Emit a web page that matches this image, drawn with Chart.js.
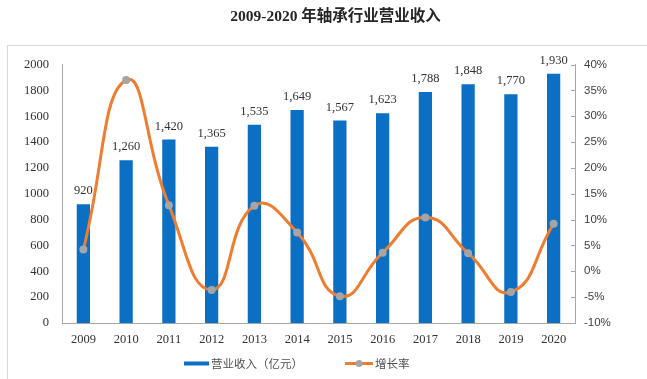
<!DOCTYPE html>
<html><head><meta charset="utf-8">
<script src="https://cdn.jsdelivr.net/npm/chart.js@4.4.1/dist/chart.umd.min.js"></script>
<style>html,body{margin:0;padding:0;background:#fff}#wrap{width:647px;height:379px;position:relative}</style>
</head><body><div id="wrap"><canvas id="c" width="647" height="379"></canvas></div>
<script>
const years = ['2009','2010','2011','2012','2013','2014','2015','2016','2017','2018','2019','2020'];
const revenue = [920, 1260, 1420, 1365, 1535, 1649, 1567, 1623, 1788, 1848, 1770, 1930];
const growth = [4.2, 37.0, 12.8, -3.6, 12.7, 7.5, -4.8, 3.6, 10.4, 3.5, -4.0, 9.2];
const revenueAxis = {min: 0, max: 2000, step: 200};
const growthAxis = {min: -10, max: 40, step: 5};
const titleText = '2009-2020 年轴承行业营业收入';
const seriesNames = ['营业收入（亿元）', '增长率'];

const BLUE = '#0B6FC3', ORANGE = '#ED7D31', GRAY = '#A5A5A5', AXIS = '#A6A6A6';
const SERIF = "'Liberation Serif','Times New Roman','Noto Sans CJK SC',serif";
const CJK = "'Noto Sans CJK SC','Liberation Sans',sans-serif";

const framePlugin = {
  id: 'frame',
  beforeDraw(chart) {
    const ctx = chart.ctx;
    ctx.save();
    ctx.fillStyle = '#fff';
    ctx.fillRect(0, 0, chart.width, chart.height);
    ctx.strokeStyle = '#D9D9D9';
    ctx.lineWidth = 1;
    ctx.strokeRect(7.5, 45.5, 700, 400);
    ctx.restore();
  },
  afterDraw(chart) {
    // inward tick marks on the right axis
    const s = chart.scales.y1;
    const ctx = chart.ctx;
    ctx.save();
    ctx.strokeStyle = AXIS;
    ctx.lineWidth = 1;
    s.ticks.forEach(t => {
      const py = Math.round(s.getPixelForValue(t.value)) + 0.5;
      ctx.beginPath(); ctx.moveTo(s.left - 4, py); ctx.lineTo(s.left, py); ctx.stroke();
    });
    ctx.restore();
  }
};

const labelPlugin = {
  id: 'barLabels',
  afterDatasetsDraw(chart) {
    const ctx = chart.ctx;
    const meta = chart.getDatasetMeta(0);
    ctx.save();
    ctx.font = '12.5px ' + SERIF;
    ctx.fillStyle = '#333';
    ctx.textAlign = 'center';
    ctx.textBaseline = 'bottom';
    meta.data.forEach((bar, i) => {
      ctx.fillText(revenue[i].toLocaleString('en-US'), bar.x, bar.y - 7);
    });
    ctx.restore();
  }
};

const legendPlugin = {
  id: 'customLegend',
  afterDraw(chart) {
    const ctx = chart.ctx;
    const y = 363.5;
    ctx.save();
    ctx.font = '11.5px ' + CJK;
    ctx.fillStyle = '#505050';
    ctx.textBaseline = 'middle';
    ctx.textAlign = 'left';
    ctx.strokeStyle = BLUE; ctx.lineWidth = 4;
    ctx.beginPath(); ctx.moveTo(184, y); ctx.lineTo(209, y); ctx.stroke();
    ctx.fillText(seriesNames[0], 211, y);
    ctx.strokeStyle = ORANGE; ctx.lineWidth = 3;
    ctx.beginPath(); ctx.moveTo(345, y); ctx.lineTo(373, y); ctx.stroke();
    ctx.fillStyle = GRAY;
    ctx.beginPath(); ctx.arc(359, y, 3.5, 0, Math.PI * 2); ctx.fill();
    ctx.fillStyle = '#505050';
    ctx.fillText(seriesNames[1], 375, y);
    ctx.restore();
  }
};

new Chart(document.getElementById('c'), {
  data: {
    labels: years,
    datasets: [
      {
        type: 'bar', label: seriesNames[0], data: revenue, yAxisID: 'y',
        backgroundColor: BLUE, barPercentage: 0.31, categoryPercentage: 1, order: 1
      },
      {
        type: 'line', label: seriesNames[1], data: growth, yAxisID: 'y1',
        borderColor: ORANGE, borderWidth: 3, tension: 0.5,
        pointRadius: 4, pointBackgroundColor: GRAY, pointBorderColor: GRAY, pointBorderWidth: 0,
        order: 0, clip: false
      }
    ]
  },
  options: {
    responsive: false,
    animation: false,
    layout: {padding: {left: 24, right: 0, top: 0, bottom: 0}},
    plugins: {
      legend: {display: false},
      tooltip: {enabled: false},
      title: {
        display: true, text: titleText, color: '#262626',
        font: {family: SERIF, size: 15.5, weight: 'bold'},
        padding: {top: 8, bottom: 38}
      }
    },
    scales: {
      x: {
        grid: {display: false, drawTicks: false},
        border: {color: AXIS},
        ticks: {font: {family: SERIF, size: 12.5}, color: '#333', padding: 9, maxRotation: 0},
        afterFit(s) { s.height = 56; }
      },
      y: {
        position: 'left', min: revenueAxis.min, max: revenueAxis.max,
        grid: {display: false, drawTicks: false},
        border: {color: AXIS},
        ticks: {stepSize: revenueAxis.step, font: {family: SERIF, size: 12.5}, color: '#333', padding: 13,
          callback: v => String(v)},
        afterFit(s) { s.width = 38; }
      },
      y1: {
        position: 'right', min: growthAxis.min, max: growthAxis.max,
        grid: {display: false, drawTicks: false},
        border: {color: AXIS},
        ticks: {stepSize: growthAxis.step, font: {family: "'Liberation Sans','DejaVu Sans',sans-serif", size: 11.5}, color: '#404040', padding: 9,
          callback: v => v + '%'},
        afterFit(s) { s.width = 72; }
      }
    }
  },
  plugins: [framePlugin, labelPlugin, legendPlugin]
});
</script>
</body></html>
